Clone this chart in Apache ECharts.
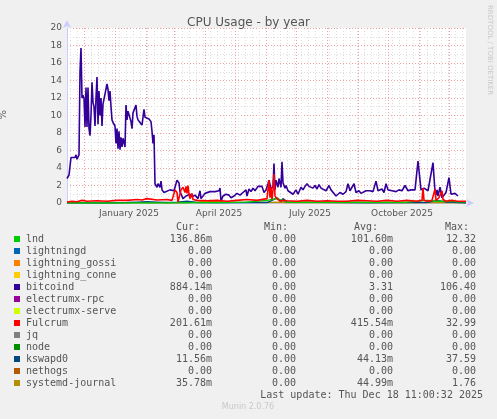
<!DOCTYPE html>
<html><head><meta charset="utf-8">
<script src="https://cdn.jsdelivr.net/npm/echarts@6/dist/echarts.min.js"></script>
<style>html,body{margin:0;padding:0;background:#f0f0f0}#c{width:497px;height:419px}</style>
</head><body><div id="c"></div>
<script>
// day indices (0 = 2024-11-14) and values in %
const bitcoindX = [0,2,3,4,6,8,9,10,11,12,13,14,15,16,17,18,19,20,21,22,23,24,25,26,27,28,29,30,31,32,33,34,35,36,38,40,41,42,43,44,45,46,48,49,50,51,52,53,54,55,56,58,59,60,61,63,64,65,66,68,69,70,71,73,75,77,78,80,82,84,85,86,87,88,90,91,93,94,95,97,99,103,107,109,110,112,113,116,119,121,123,125,128,131,133,134,136,138,140,143,148,152,153,154,156,159,162,164,167,170,173,176,179,180,182,184,186,188,191,193,195,197,199,201,202,204,206,207,208,209,211,212,214,215,216,217,218,219,221,223,226,229,231,234,236,238,240,242,244,246,248,250,252,254,256,259,262,264,266,269,271,273,276,279,281,283,285,287,289,292,294,296,299,301,303,306,309,311,313,315,317,319,321,323,325,327,329,332,335,338,341,344,346,348,351,354,357,358,359,361,363,366,368,369,370,371,373,375,377,379,380,382,384,386,388,389,390,391,393,395,397,399];
const bitcoindY = [2.8,3.2,3.3,5.2,5.4,5.2,5.5,5.0,4.8,5.5,15,17.7,12,12.3,12,8.7,13.2,8.7,13.2,8.5,7.7,10,13.8,11.5,11,8.8,12,14.4,9,12.8,10,12,8.8,11.3,11.2,13.6,13,11.7,12.8,11,9.5,9.2,8.8,6.8,8.5,6.2,8.2,6.1,7.5,6.4,7.4,6.4,11.2,9.5,10.5,10.4,9.3,8.5,10.3,10.1,11.2,9.9,9.5,9.2,8.9,10.7,9.8,9.7,9.6,9.3,8.2,6.8,7.8,2.2,1.8,2.2,1.8,2.5,1.5,1.2,1.3,1.5,1.4,1.5,2.6,2.3,1.3,0.5,0.8,0.6,1.0,0.7,0.9,0.5,1.4,0.5,0.4,1.1,1.2,1.3,1.3,1.4,1.7,0.2,0.8,1.0,0.9,0.6,0.8,1.1,0.9,1.2,1.5,0.8,1.6,1.3,1.7,1.4,1.9,1.7,1.9,1.2,1.5,2.2,2.6,1.6,1.9,4.5,1.5,2.6,1.8,2.8,1.8,4.7,2.3,2.2,1.7,2.0,1.4,1.2,1.0,1.5,1.0,1.8,1.5,1.9,2.2,1.9,2.1,1.7,2.0,1.6,2.1,1.7,1.9,1.4,2.0,1.5,1.3,0.8,0.7,1.2,1.0,1.3,2.2,1.4,1.6,2.2,1.2,1.4,1.1,1.0,1.4,1.3,1.4,1.3,2.5,1.4,1.2,1.6,1.2,2.2,1.5,1.6,1.4,1.5,1.3,1.5,1.4,2.0,1.4,1.5,1.6,1.5,4.8,1.5,1.7,1.6,1.7,1.4,1.5,4.6,1.3,0.9,1.5,0.8,1.8,0.6,0.7,1.2,1.1,2.9,1.0,1.2,1.1,1.3,0.9,0.8];
const fulcrumX = [0,5,10,15,20,30,40,50,60,70,75,80,90,100,105,108,110,111,112,114,116,118,119,120,121,122,123,124,125,126,127,130,140,150,160,170,180,190,200,202,203,204,205,206,207,208,210,212,213,214,215,216,217,220,230,240,250,260,270,280,290,300,310,320,330,340,350,355,356,357,360,365,367,368,369,370,372,375,376,377,379,380,385,390,395,399];
const fulcrumY = [0.1,0.2,0.15,0.3,0.2,0.25,0.2,0.3,0.3,0.4,0.35,0.5,0.35,0.4,0.3,1.5,1.2,0.1,0.3,1.5,1.8,1.2,1.9,1.1,2.0,1.0,0.5,0.6,1.1,0.4,0.3,0.3,0.25,0.3,0.2,0.3,0.4,0.3,0.5,2.6,0.6,1.8,0.4,1.5,3.3,0.8,0.5,0.3,0.2,0.25,0.2,0.3,0.2,0.25,0.2,0.3,0.2,0.25,0.2,0.2,0.3,0.25,0.2,0.3,0.2,0.3,0.2,0.3,1.7,0.3,0.2,0.3,0.2,1.6,0.3,0.2,0.6,1.4,0.4,0.3,0.2,0.2,0.3,0.2,0.2,0.2];
const lndX = [0,100,160,180,200,205,210,215,220,240,280,300,340,350,360,370,380,390,399];
const lndY = [0,0,0.05,0.1,0.3,0.4,0.5,0.3,0.1,0.1,0.1,0.1,0.1,0.2,0.3,0.2,0.2,0.15,0.14];
const kswapdX = [0,40,60,70,80,90,100,110,120,130,150,200,205,210,214,216,220,300,360,370,380,390,399];
const kswapdY = [0,0,0.05,0.1,0.15,0.1,0.05,0.1,0.2,0.05,0.02,0.05,0.3,0.6,0.2,0.5,0.1,0.02,0.05,0.3,0.1,0.05,0.01];
const journalX = [0,120,130,140,150,160,200,210,220,260,300,399];
const journalY = [0.02,0.02,0.1,0.2,0.15,0.1,0.05,0.08,0.04,0.05,0.04,0.04];
const yTicks = [0,2,4,6,8,10,12,14,16,18,20];
const monthLabels = {62:'January 2025',152:'April 2025',243:'July 2025',335:'October 2025'};
const monthStarts = [17,48,79,107,138,168,199,229,260,291,321,352,382];
const legNames = ['lnd','lightningd','lightning_gossi','lightning_conne','bitcoind','electrumx-rpc','electrumx-serve','Fulcrum','jq','node','kswapd0','nethogs','systemd-journal'];
const legColors = ['#00cc00','#0066b3','#ff8000','#ffcc00','#330099','#990099','#ccff00','#ff0000','#808080','#008f00','#00487d','#b35a00','#b38f00'];
const legCur = ['136.86m','0.00','0.00','0.00','884.14m','0.00','0.00','201.61m','0.00','0.00','11.56m','0.00','35.78m'];
const legMin = ['0.00','0.00','0.00','0.00','0.00','0.00','0.00','0.00','0.00','0.00','0.00','0.00','0.00'];
const legAvg = ['101.60m','0.00','0.00','0.00','3.31','0.00','0.00','415.54m','0.00','0.00','44.13m','0.00','44.99m'];
const legMax = ['12.32','0.00','0.00','0.00','106.40','0.00','0.00','32.99','0.00','0.00','37.59','0.00','1.76'];

const N = 400, days = [];
for (let i = 0; i < N; i++) days.push(i);
const pair = (xs, ys) => xs.map((x, i) => [x, ys[i]]);
const mono = 'DejaVu Sans Mono';
const g = [];
const hdr = [['Cur:',190],['Min:',278],['Avg:',368],['Max:',459]];
hdr.forEach(h => g.push({type:'text',left:h[1]-14,top:222,style:{text:h[0],font:'10px '+mono,fill:'#555'}}));
legNames.forEach((n, i) => {
  const y = 234 + i * 12;
  g.push({type:'rect',shape:{x:14,y:y+2,width:6,height:6},style:{fill:legColors[i]}});
  g.push({type:'text',left:26,top:y,style:{text:n,font:'10px '+mono,fill:'#555'}});
  [[legCur,212],[legMin,296],[legAvg,393],[legMax,476]].forEach(c => {
    g.push({type:'text',x:c[1],y:y,style:{text:c[0][i],font:'10px '+mono,fill:'#555',align:'right',verticalAlign:'top'}});
  });
});
g.push({type:'text',x:483,y:390,style:{text:'Last update: Thu Dec 18 11:00:32 2025',font:'10px '+mono,fill:'#555',align:'right',verticalAlign:'top'}});
g.push({type:'text',x:248,y:403,style:{text:'Munin 2.0.76',font:'8px DejaVu Sans',fill:'#c8c8c8',align:'center',verticalAlign:'top'}});
g.push({type:'text',x:493,y:5,rotation:-Math.PI/2,style:{text:'RRDTOOL / TOBI OETIKER',font:'7px DejaVu Sans',fill:'#c8c8c8',verticalAlign:'top'}});
g.push({type:'text',x:6,y:110,rotation:-Math.PI/2,style:{text:'%',font:'10px DejaVu Sans',fill:'#555',verticalAlign:'top'}});
g.push({type:'rect',z:-1,shape:{x:67,y:28,width:399,height:175},style:{fill:'#fff'}});

const ln = (name, data, color, w) => ({type:'line',name,data,xAxisIndex:1,showSymbol:false,symbol:'none',animation:false,lineStyle:{color,width:w}});
const chart = echarts.init(document.getElementById('c'));
chart.setOption({
  backgroundColor:'#f0f0f0',
  title:{text:'CPU Usage - by year',left:'center',top:12,textStyle:{fontFamily:'DejaVu Sans',fontSize:12,fontWeight:'normal',color:'#555'}},
  grid:{left:67,top:28,width:399,height:175},
  graphic:g,
  xAxis:[
    {type:'category',position:'bottom',data:days,boundaryGap:false,axisLine:{show:false},axisTick:{show:false},axisLabel:{show:false},
     splitLine:{show:true,interval:(i)=>i%7===3,lineStyle:{color:'#dddddd',type:[1,2],width:1}}},
    {type:'category',position:'bottom',data:days,boundaryGap:false,
     axisLine:{show:true,symbol:['none','arrow'],symbolSize:[6,8],symbolOffset:[0,8],lineStyle:{color:'#ccccff'}},
     axisTick:{show:false},
     axisLabel:{interval:(i)=>monthLabels[i]!==undefined,formatter:(v)=>monthLabels[v]||'',fontFamily:'DejaVu Sans',fontSize:9,color:'#555',margin:6},
     splitLine:{show:true,interval:(i)=>monthStarts.includes(i),lineStyle:{color:'#f0a0a0',type:[1,2],width:1}}}
  ],
  yAxis:{type:'value',min:0,max:20,interval:2,
    axisLine:{show:true,symbol:['none','arrow'],symbolSize:[6,8],symbolOffset:[0,8],lineStyle:{color:'#ccccff'}},
    axisTick:{show:false},
    axisLabel:{fontFamily:'DejaVu Sans',fontSize:9,color:'#555',margin:5,customValues:yTicks},
    splitLine:{lineStyle:{color:'#f0a0a0',type:[1,2]}},
    minorTick:{show:false,splitNumber:2},
    minorSplitLine:{show:true,lineStyle:{color:'#dddddd',type:[1,2]}}},
  series:[
    ln('systemd-journal',pair(journalX,journalY),'#b38f00',1.5),
    ln('kswapd0',pair(kswapdX,kswapdY),'#00487d',1.5),
    ln('lnd',pair(lndX,lndY),'#00cc00',1.5),
    ln('bitcoind',pair(bitcoindX,bitcoindY),'#330099',1.6),
    ln('Fulcrum',pair(fulcrumX,fulcrumY),'#ff0000',1.6)
  ]
});
</script></body></html>
